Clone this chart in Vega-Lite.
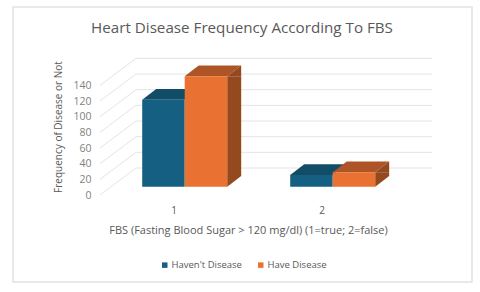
{"$schema":"https://vega.github.io/schema/vega-lite/v6.json","width":296,"height":137,"padding":{"left":100,"top":58,"right":84,"bottom":97},"autosize":{"type":"none"},"background":"white","view":{"stroke":null},
"title":{"text":"Heart Disease Frequency According To FBS","font":"Open Sans","fontSize":15.2,"fontWeight":"normal","color":"#595959","anchor":"middle","frame":"group","dx":-6,"offset":-32},
"config":{"font":"Open Sans","axisY":{"labelOverlap":false,"labelSeparation":0,"tickCount":8}},
"datasets":{"bars":[{"fbs":"1","series":"Haven't Disease","count":111},{"fbs":"1","series":"Have Disease","count":141},{"fbs":"2","series":"Haven't Disease","count":15},{"fbs":"2","series":"Have Disease","count":18.5}],"grid":[{"tick":0},{"tick":20},{"tick":40},{"tick":60},{"tick":80},{"tick":100},{"tick":120},{"tick":140}]},
"encoding":{"x":{"field":"fbs","type":"nominal","scale":{"domain":["1","2"],"paddingInner":0,"paddingOuter":0},"axis":{"labelAngle":0,"labelFontSize":10,"labelColor":"#595959","labelPadding":10,"ticks":false,"domain":false,"title":"FBS (Fasting Blood Sugar > 120 mg/dl) (1=true; 2=false)","titleFontSize":11,"titleFontWeight":"normal","titleColor":"#595959","titlePadding":9,"grid":false}}},
"layer":[
{"data":{"values":[{"frame":1}]},"mark":{"type":"point","shape":"M-161 -188H298V87H-161Z","size":4,"filled":false,"stroke":"#e2e2e2","strokeWidth":1.5,"opacity":1},"encoding":{"x":{"datum":"1"},"y":{"datum":0,"type":"quantitative","scale":{"domain":[0,175],"nice":false},"axis":{"values":[0,20,40,60,80,100,120,140],"labelOverlap":false,"domain":false,"ticks":false,"grid":false,"labelFontSize":10.5,"labelColor":"#7f7f7f","labelPadding":9,"title":"Frequency of Disease or Not","titleFontSize":10,"titleFontWeight":"normal","titleColor":"#595959","titlePadding":9}}}},
{"data":{"name":"grid"},"mark":{"type":"point","shape":"M-74 0L-38 -27L258 -27","size":4,"filled":false,"stroke":"#e4e4e4","strokeWidth":1,"opacity":1},"encoding":{"x":{"datum":"1"},"y":{"field":"tick","type":"quantitative"}}},
{"data":{"name":"bars"},"transform":[{"filter":"datum.series === \"Haven't Disease\""}],"mark":{"type":"point","shape":"M-21.25 0L21.25 0L35.25 -10.7L-7.25 -10.7Z","size":4,"filled":true,"color":"#124d68","opacity":1,"xOffset":-10.55,"yOffset":-8.3},"encoding":{"y":{"field":"count","type":"quantitative"}}},
{"data":{"name":"bars"},"transform":[{"filter":"datum.series === 'Have Disease'"}],"mark":{"type":"point","shape":"M-21.25 0L21.25 0L35.25 -10.7L-7.25 -10.7Z","size":4,"filled":true,"color":"#ad5526","opacity":1,"xOffset":31.95,"yOffset":-8.3},"encoding":{"y":{"field":"count","type":"quantitative"}}},
{"data":{"name":"bars"},"transform":[{"filter":"datum.series === 'Have Disease'"}],"mark":{"type":"point","shape":"M21.25 0L35.25 0L35.25 -10.7Z","size":4,"filled":true,"color":"#95491f","opacity":1,"xOffset":31.95,"yOffset":-8.3},"encoding":{"y":{"field":"count","type":"quantitative"}}},
{"data":{"name":"bars"},"transform":[{"filter":"datum.series === 'Have Disease'"}],"mark":{"type":"point","shape":"M21.25 0L35.25 -10.7L21.25 -10.7Z","size":4,"filled":true,"color":"#95491f","opacity":1,"xOffset":31.95,"yOffset":-8.3},"encoding":{"y":{"datum":0,"type":"quantitative"}}},
{"data":{"name":"bars"},"transform":[{"filter":"datum.series === 'Have Disease'"}],"mark":{"type":"rule","color":"#95491f","strokeWidth":14,"xOffset":60.2,"yOffset":-8.3,"y2Offset":-19},"encoding":{"y":{"field":"count","type":"quantitative"},"y2":{"datum":0}}},
{"data":{"name":"bars"},"mark":{"type":"bar","yOffset":-8.3,"y2Offset":-8.3},"encoding":{"xOffset":{"field":"series","scale":{"domain":["Haven't Disease","Have Disease"],"range":[10.7,158.7],"paddingInner":0,"paddingOuter":0.741}},"y":{"field":"count","type":"quantitative"},"y2":{"datum":0},"color":{"field":"series","type":"nominal","scale":{"domain":["Haven't Disease","Have Disease"],"range":["#156082","#E97132"]},"legend":{"title":null,"orient":"none","direction":"horizontal","legendX":60,"legendY":202,"symbolType":"square","symbolSize":30,"symbolStrokeWidth":0,"labelFontSize":9.5,"labelColor":"#595959","columnPadding":14,"labelOffset":2}}}}
]}
